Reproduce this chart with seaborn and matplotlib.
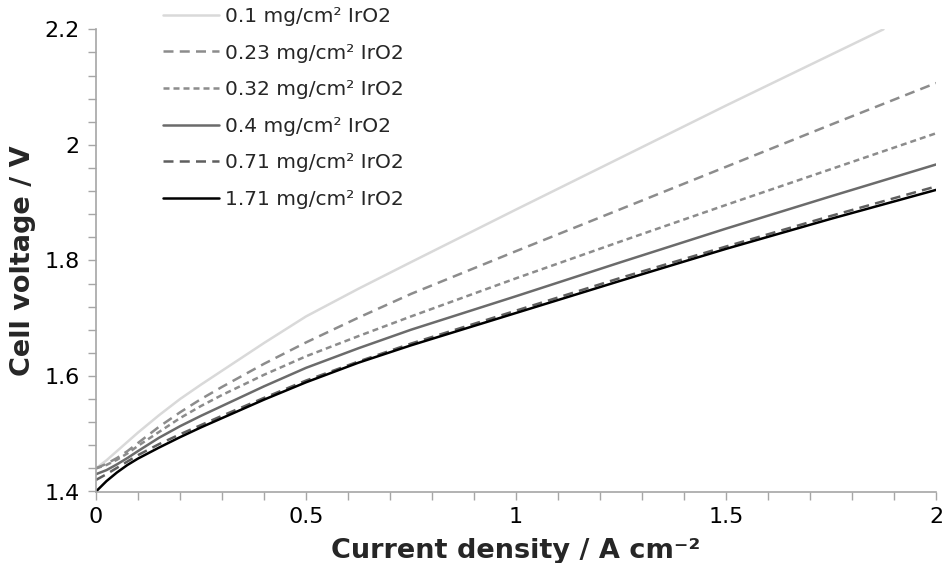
import pandas as pd
import matplotlib
matplotlib.use("Agg")
import matplotlib.pyplot as plt
from matplotlib.ticker import MultipleLocator, FuncFormatter
import seaborn as sns

# Datos (densidad de corriente A/cm2 -> voltaje V)
x_comun = [0, 0.025, 0.05, 0.075, 0.1, 0.15, 0.2, 0.25, 0.3, 0.4, 0.5, 0.625,
           0.75, 1.0, 1.25, 1.5, 1.75, 2.0]
x_01 = [0, 0.025, 0.05, 0.075, 0.1, 0.15, 0.2, 0.25, 0.3, 0.4, 0.5, 0.625,
        0.75, 1.0, 1.25, 1.5, 1.75, 1.875]

v_01 = [1.44, 1.454, 1.47, 1.486, 1.502, 1.532, 1.56, 1.585, 1.609, 1.657, 1.703,
        1.751, 1.797, 1.888, 1.978, 2.068, 2.156, 2.2]
v_023 = [1.44, 1.448, 1.458, 1.47, 1.484, 1.512, 1.537, 1.56, 1.581, 1.621, 1.658,
         1.701, 1.742, 1.816, 1.889, 1.962, 2.035, 2.107]
v_032 = [1.44, 1.446, 1.455, 1.466, 1.479, 1.503, 1.527, 1.548, 1.567, 1.602, 1.634,
         1.669, 1.703, 1.769, 1.833, 1.896, 1.958, 2.02]
v_04 = [1.43, 1.437, 1.447, 1.458, 1.47, 1.493, 1.513, 1.531, 1.548, 1.582, 1.614,
        1.648, 1.68, 1.738, 1.797, 1.855, 1.911, 1.966]
v_071 = [1.42, 1.43, 1.441, 1.452, 1.463, 1.482, 1.499, 1.515, 1.531, 1.562, 1.592,
         1.625, 1.656, 1.713, 1.77, 1.824, 1.877, 1.928]
v_171 = [1.40, 1.418, 1.433, 1.446, 1.457, 1.476, 1.494, 1.511, 1.527, 1.559, 1.589,
         1.623, 1.653, 1.709, 1.765, 1.82, 1.872, 1.922]

etiquetas = ["0.1 mg/cm² IrO2", "0.23 mg/cm² IrO2", "0.32 mg/cm² IrO2",
             "0.4 mg/cm² IrO2", "0.71 mg/cm² IrO2", "1.71 mg/cm² IrO2"]

series = [(x_01, v_01), (x_comun, v_023), (x_comun, v_032),
          (x_comun, v_04), (x_comun, v_071), (x_comun, v_171)]

colores = ["#d9d9d9", "#8c8c8c", "#8c8c8c", "#6b6b6b", "#5f5f5f", "#000000"]
estilos = [None, (4, 2.5), (2.4, 1.6), None, (4, 2.5), None]

sns.set_style("white")
plt.rcParams['font.family'] = ['DejaVu Sans']

fig = plt.figure(figsize=(9.45, 5.63), dpi=100)
ax = fig.add_axes([96 / 945, 1 - 491.5 / 563, 840 / 945, 462.2 / 563])

for (xs, vs), etiqueta, color, estilo in zip(series, etiquetas, colores, estilos):
    df = pd.DataFrame({"x": xs, "v": vs})
    sns.lineplot(data=df, x="x", y="v", ax=ax, color=color, linewidth=1.8,
                 label=etiqueta, legend=False)
    if estilo is not None:
        ax.lines[-1].set_dashes(estilo)

ax.set_xlim(0, 2)
ax.set_ylim(1.4, 2.2)

# Ejes y marcas
gris = "#a6a6a6"
for lado in ["top", "right"]:
    ax.spines[lado].set_visible(False)
for lado in ["left", "bottom"]:
    ax.spines[lado].set_color(gris)
    ax.spines[lado].set_linewidth(1.2)

ax.xaxis.set_major_locator(MultipleLocator(0.5))
ax.xaxis.set_minor_locator(MultipleLocator(0.1))
ax.yaxis.set_major_locator(MultipleLocator(0.2))
ax.yaxis.set_minor_locator(MultipleLocator(0.04))
fmt = FuncFormatter(lambda v, p: f"{v:g}")
ax.xaxis.set_major_formatter(fmt)
ax.yaxis.set_major_formatter(fmt)
ax.tick_params(which="both", direction="out", color=gris, width=1.0, length=6,
               bottom=True, left=True)
ax.tick_params(which="major", labelsize=16, colors=gris, labelcolor="#000000")
ax.tick_params(axis="y", which="major", pad=6)
ax.tick_params(axis="x", which="major", pad=5)

ax.set_xlabel("Current density / A cm⁻²", fontsize=19.5, fontweight="bold", labelpad=8)
ax.set_ylabel("Cell voltage / V", fontsize=19.5, fontweight="bold", labelpad=6)

ax.legend(loc="upper left", bbox_to_anchor=(163 / 945, 1 - 7 / 563),
          bbox_transform=fig.transFigure, frameon=False, fontsize=14.5,
          handlelength=2.8, handletextpad=0.3, labelspacing=0.87,
          borderpad=0, borderaxespad=0)

plt.savefig("out.png", dpi=100)
plt.close()
